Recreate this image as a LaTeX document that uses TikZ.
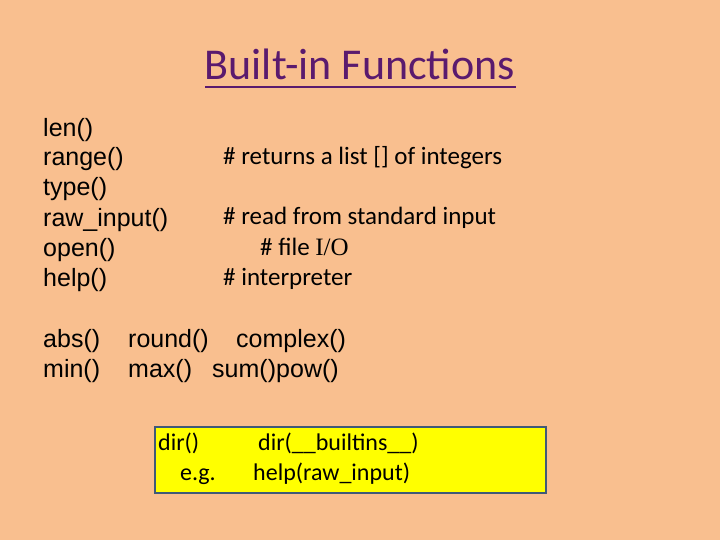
\documentclass[tikz,border=0pt]{standalone}
\usepackage{fontspec}
\setmainfont{Liberation Sans}
\newfontfamily\calfont{Carlito}
\newfontfamily\tmsfont{Liberation Serif}
\definecolor{bg}{HTML}{F9BF8F}
\definecolor{ttl}{HTML}{5A1A6E}
\definecolor{bx}{HTML}{FFFF00}
\definecolor{bxd}{HTML}{3F5A78}
\begin{document}
\begin{tikzpicture}[x=1pt,y=-1pt,
  t/.style={anchor=base west,inner sep=0pt,font=\fontsize{25}{30}\selectfont},
  c/.style={anchor=base west,inner sep=0pt,font=\calfont\fontsize{25}{30}\selectfont},
  d/.style={anchor=base west,inner sep=0pt,font=\calfont\fontsize{24}{28}\selectfont}]
\fill[bg] (0,0) rectangle (720,540);
\node[anchor=base,inner sep=0pt,text=ttl,font=\calfont\fontsize{44}{50}\selectfont] (title) at (360,80) {Built-in Functions};
\draw[ttl,line width=1.5pt] (205,87) -- (516,87);
\node[t] (l1) at (43,137) {len()};
\node[t] (l2) at (43,166) {range()};
\node[t] (l3) at (43,196) {type()};
\node[t] (l4) at (43,226) {raw\_input()};
\node[t] (l5) at (43,256) {open()};
\node[t] (l6) at (43,286) {help()};
\node[c] (c1) at (223,165) {\# returns a list [] of integers};
\node[c] (c2) at (223,225) {\# read from standard input};
\node[c] (c3) at (260,255) {\# file {\tmsfont I/O}};
\node[c] (c4) at (223,285) {\# interpreter};
\node[t] (a1) at (43,347) {abs()};
\node[t] (a2) at (128,347) {round()};
\node[t] (a3) at (236,347) {complex()};
\node[t] (b1) at (43,377) {min()};
\node[t] (b2) at (128,377) {max()};
\node[t] (b3) at (212,377) {sum()};
\node[t] (b4) at (276,377) {pow()};
\draw[bxd,fill=bx,line width=2pt] (155,427) rectangle (546,493);
\node[d] (d1) at (158,450) {dir()};
\node[d] (d2) at (258,450) {dir(\_\_builtins\_\_)};
\node[d] (d3) at (180,480) {e.g.};
\node[d] (d4) at (253,480) {help(raw\_input)};
\end{tikzpicture}
\end{document}
